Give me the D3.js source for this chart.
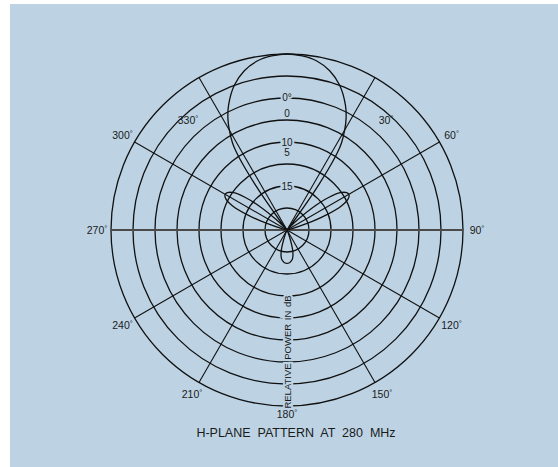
<!DOCTYPE html>
<meta charset="utf-8">
<html>
<head>
<title>H-plane pattern</title>
<style>
  body { margin: 0; background: #fff; }
  text { font-family: "Liberation Sans", Arial, sans-serif; fill: #1a1a1a; }
  .ring { fill: none; stroke: #111; stroke-width: 1.3; }
  .spoke { stroke: #111; stroke-width: 1.1; }
  .axis90 { stroke: #4a4a4a; stroke-width: 2; }
  .pattern { fill: none; stroke: #111; stroke-width: 1.3; }
  .halo { paint-order: stroke; stroke: #bdd3e4; stroke-width: 4px; }
</style>
</head>
<body>
<svg width="558" height="467"></svg>

<script src="https://d3js.org/d3.v7.min.js"></script>
<script>
  // pattern: bearing in degrees (0 = up, clockwise) and relative radius (1 = outer ring)
  var patternAngles = [
    0, 5, 10, 15, 20, 25, 28, 30, 32, 33, 34, 35, 36, 37, 38, 40,
    43, 46, 49, 52, 55, 58, 60.5, 63, 66, 69, 72, 75, 78,
    155, 158, 161, 164, 167, 170, 175, 180, 185, 190, 193, 196, 199, 202, 205,
    282, 285, 288, 291, 294, 297, 299.5, 302, 305, 308, 311, 314, 317,
    320, 322, 323, 324, 325, 326, 327, 328, 330, 332, 335, 340, 345, 350, 355
  ];
  var patternValues = [
    1.0, 0.993, 0.975, 0.937, 0.875, 0.785, 0.715, 0.655, 0.585, 0.53, 0.44, 0.32, 0.19, 0.08, 0.02, 0,
    0.02, 0.09, 0.2, 0.3, 0.37, 0.4, 0.405, 0.39, 0.34, 0.24, 0.12, 0.03, 0,
    0, 0.02, 0.06, 0.115, 0.15, 0.17, 0.185, 0.19, 0.185, 0.17, 0.15, 0.115, 0.06, 0.02, 0,
    0, 0.03, 0.12, 0.24, 0.34, 0.39, 0.405, 0.4, 0.37, 0.3, 0.2, 0.09, 0.02,
    0, 0.02, 0.08, 0.19, 0.32, 0.44, 0.53, 0.585, 0.655, 0.715, 0.785, 0.875, 0.937, 0.975, 0.993
  ];

  var ringValues = [0.125, 0.25, 0.375, 0.5, 0.625, 0.75, 0.875, 1];
  var spokeAngles = [30, 60, 120, 150, 210, 240, 300, 330];
  var angleTicks = [30, 60, 90, 120, 150, 180, 210, 240, 270, 300, 330];

  // dB labels written on the rings, top to bottom
  var dbLabels = ["0°", "0", "10", "5", "15"];
  var axisTitle = "RELATIVE POWER IN dB";
  var chartTitle = "H-PLANE PATTERN AT 280 MHz";

  var svg = d3.select("svg"),
      cx = 287, cy = 230, R = 176;

  svg.append("rect")
      .attr("x", 10).attr("y", 4)
      .attr("width", 548).attr("height", 463)
      .attr("fill", "#bdd3e4");

  var r = d3.scaleLinear().domain([0, 1]).range([0, R]);
  var rad = function(a) { return a * Math.PI / 180; };

  var g = svg.append("g").attr("transform", "translate(" + cx + "," + cy + ")");

  // rings
  g.selectAll(".ring")
    .data(ringValues)
    .enter().append("circle")
      .attr("class", "ring")
      .attr("r", function(d) { return r(d); });

  // spokes
  g.selectAll(".spoke")
    .data(spokeAngles)
    .enter().append("line")
      .attr("class", "spoke")
      .attr("x1", 0).attr("y1", 0)
      .attr("x2", function(d) { return r(1) * Math.sin(rad(d)); })
      .attr("y2", function(d) { return -r(1) * Math.cos(rad(d)); });

  g.append("line")
      .attr("class", "axis90")
      .attr("x1", -r(1)).attr("x2", r(1))
      .attr("y1", 0).attr("y2", 0);

  // the radiation pattern
  var pts = patternAngles.map(function(a, i) { return [rad(a), r(patternValues[i])]; });
  var line = d3.lineRadial()
      .angle(function(d) { return d[0]; })
      .radius(function(d) { return d[1]; })
      .curve(d3.curveCatmullRomClosed.alpha(0.5));
  g.append("path")
      .attr("class", "pattern")
      .attr("d", line(pts));

  // dB labels along the vertical axis
  var dbY = [-133, -117, -88, -78, -44];
  var dbHalo = [true, false, true, false, true];
  g.selectAll(".db")
    .data(dbLabels)
    .enter().append("text")
      .attr("class", function(d, i) { return dbHalo[i] ? "db halo" : "db"; })
      .attr("x", 0)
      .attr("y", function(d, i) { return dbY[i]; })
      .attr("text-anchor", "middle")
      .attr("dy", "0.36em")
      .style("font-size", "10px")
      .text(function(d) { return d; });

  // vertical axis title
  g.append("text")
      .attr("class", "halo")
      .attr("transform", "translate(3.5,122) rotate(-90)")
      .attr("text-anchor", "middle")
      .style("font-size", "9.5px")
      .style("word-spacing", "1px")
      .text(axisTitle);

  // angle labels
  var labelR = 190;
  var labelShift = { 30: [42, 148], 330: [318, 148], 180: [180, 184] };
  var tick = g.selectAll(".tick")
    .data(angleTicks)
    .enter().append("text")
      .attr("class", "tick")
      .attr("text-anchor", "middle")
      .attr("dy", "0.36em")
      .style("font-size", "10.5px")
      .attr("x", function(d) {
        var p = labelShift[d] || [d, labelR];
        return p[1] * Math.sin(rad(p[0]));
      })
      .attr("y", function(d) {
        var p = labelShift[d] || [d, labelR];
        return -p[1] * Math.cos(rad(p[0]));
      });
  tick.append("tspan").text(function(d) { return d; });
  tick.append("tspan")
      .attr("dy", "-0.4em")
      .style("font-size", "7.5px")
      .text("°");

  svg.append("text")
      .attr("x", 296).attr("y", 437)
      .attr("text-anchor", "middle")
      .style("font-size", "12.5px")
      .style("word-spacing", "3.5px")
      .text(chartTitle);
</script>
</body>
</html>
